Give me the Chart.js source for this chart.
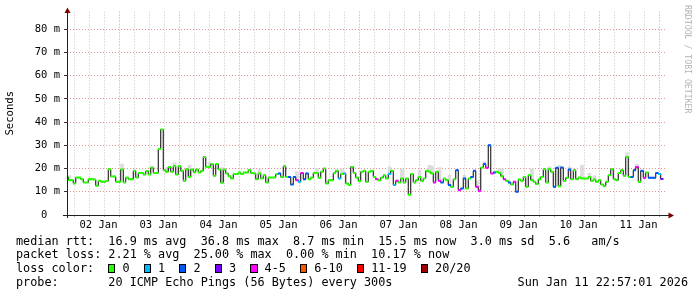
<!DOCTYPE html>
<html>
<head>
<meta charset="utf-8">
<script src="https://cdn.jsdelivr.net/npm/chart.js@4/dist/chart.umd.min.js"></script>
<style>
    html, body { margin: 0; padding: 0; background: #fff; }
    #wrap { position: relative; width: 697px; height: 297px; overflow: hidden; font-family: "DejaVu Sans Mono", monospace; }
    #chart { position: absolute; left: 0; top: 0; }
    .legend { position: absolute; left: 16px; top: 234.6px; font-size: 11.8px; line-height: 13.7px; white-space: pre; color: #000; }
    .box { display: inline-block; box-sizing: border-box; width: 1ch; height: 9px; border: 1px solid #000; vertical-align: -1px; }
    .stamp { position: absolute; right: 9px; top: 275.7px; font-size: 11.8px; line-height: 13.7px; white-space: pre; color: #000; }
    .mark { position: absolute; left: 683px; top: 5px; writing-mode: vertical-rl; font-size: 8.2px; line-height: 10px; color: #b4b4b4; white-space: pre; }
</style>
</head>
<body>
<div id="wrap">
    <canvas id="chart" width="697" height="297"></canvas>
    <div class="legend" id="legend"></div>
    <div class="stamp">Sun Jan 11 22:57:01 2026</div>
    <div class="mark">RRDTOOL / TOBI OETIKER</div>
</div>
<script>
// median rtt in ms, one value per hour starting 02 Jan 00:00 (one row per day)
const rtt = [
    16.4, 15.0, 15.0, 13.6, 16.1, 16.1, 15.4, 14.0, 14.0, 15.4, 15.4, 15.3, 12.6, 14.7, 14.3, 14.3, 14.6, 19.7, 16.6, 16.6, 14.3, 14.3, 19.6, 14.0,
    16.1, 15.4, 15.4, 19.0, 16.1, 18.1, 18.1, 17.4, 18.9, 17.4, 20.3, 18.1, 18.1, 28.4, 36.8, 19.3, 18.6, 20.7, 18.6, 21.0, 17.4, 21.0, 19.0, 14.7,
    19.7, 16.4, 19.6, 18.4, 19.6, 18.3, 19.0, 25.0, 20.7, 20.7, 21.9, 16.9, 21.9, 19.6, 13.9, 19.6, 17.9, 16.7, 15.7, 17.6, 17.6, 18.3, 17.6, 18.3,
    18.3, 19.3, 18.1, 17.9, 15.4, 17.9, 15.7, 17.1, 14.0, 16.1, 16.1, 16.1, 17.6, 17.9, 16.4, 21.0, 16.4, 16.4, 13.1, 16.4, 15.0, 14.3, 18.1, 15.4,
    17.9, 15.4, 16.1, 18.1, 18.1, 16.0, 18.6, 20.0, 13.6, 15.0, 15.0, 18.1, 19.0, 15.7, 17.6, 17.9, 13.6, 12.9, 20.7, 18.1, 16.1, 14.6, 18.6, 19.0,
    14.3, 18.6, 19.0, 16.4, 15.4, 15.0, 16.1, 17.1, 15.7, 17.6, 19.0, 12.9, 14.7, 14.0, 15.7, 14.0, 15.7, 8.7, 17.6, 14.0, 15.0, 16.4, 14.7, 15.7,
    19.0, 18.6, 17.9, 14.0, 18.6, 14.7, 14.0, 15.7, 15.0, 12.9, 12.1, 15.4, 19.3, 10.7, 11.4, 15.7, 11.4, 15.7, 16.4, 19.0, 12.1, 10.4, 20.4, 21.9,
    20.3, 30.0, 17.9, 18.3, 18.6, 18.1, 16.7, 15.4, 14.7, 14.0, 13.1, 14.3, 10.0, 15.3, 14.7, 16.4, 12.1, 17.1, 15.0, 14.3, 13.3, 15.4, 16.4, 19.7,
    14.0, 19.7, 18.6, 12.1, 20.3, 12.4, 20.4, 14.6, 16.0, 19.6, 15.4, 19.3, 15.4, 16.1, 15.7, 15.7, 15.7, 16.4, 14.7, 15.3, 14.3, 15.0, 13.1, 12.4,
    14.3, 17.1, 19.7, 15.4, 15.0, 18.1, 19.3, 16.9, 25.0, 16.4, 16.4, 19.3, 20.7, 14.3, 19.0, 16.0, 18.3, 16.0, 16.0, 16.0, 18.1, 17.6, 15.5
];

// lost pings (of 20) for each hour
const loss = [
    0,0,0,0,0,0,0,0,0,0,0,0,0,0,0,0,0,0,0,0,0,0,0,0,
    0,0,0,0,0,0,0,0,0,0,0,0,0,0,0,0,0,0,0,0,0,0,0,0,
    0,0,0,0,0,0,0,0,0,0,0,0,0,0,0,0,0,0,0,0,0,0,0,0,
    0,0,0,0,0,0,0,0,0,0,0,0,0,2,0,0,0,2,2,2,4,1,4,2,
    2,0,0,0,0,0,0,0,0,0,0,0,0,1,0,1,0,0,0,0,0,0,0,0,
    0,0,0,0,4,0,0,0,0,1,0,1,4,0,0,0,0,0,0,0,0,0,0,0,
    0,0,0,4,0,4,2,0,0,2,0,0,2,4,2,2,0,0,2,2,4,4,0,2,
    4,2,4,2,0,0,0,4,0,2,0,4,2,0,0,0,0,0,0,0,0,0,0,0,
    0,0,0,2,2,0,2,0,0,2,0,0,0,0,0,0,0,0,0,0,0,0,0,0,
    0,0,0,0,0,0,0,0,0,0,2,2,4,0,2,4,0,2,2,2,2,1,3
];

// visible smoke (ping spread above the median)
const smokeHours = [1, 22, 34, 40, 43, 49, 57, 62, 77, 92, 100, 110, 129, 134, 141, 145, 146, 149, 153, 159, 164, 167, 173, 174, 186, 193, 197, 201, 206, 209, 211, 224, 228];
const smokeTops = [17.0, 21.9, 21.0, 20.4, 22.4, 21.5, 22.6, 20.4, 19.9, 18.6, 20.0, 19.9, 20.7, 19.9, 19.3, 21.4, 21.0, 20.4, 17.1, 17.1, 14.7, 23.0, 20.0, 20.0, 19.9, 20.7, 21.4, 20.7, 21.4, 17.9, 16.9, 26.7, 21.9];

const dayLabels = ['02 Jan', '03 Jan', '04 Jan', '05 Jan', '06 Jan', '07 Jan', '08 Jan', '09 Jan', '10 Jan', '11 Jan'];

const lossUpper = [0, 1, 2, 3, 5, 10, 19, 20];
const lossLabels = ['0', '1', '2', '3', '4-5', '6-10', '11-19', '20/20'];
const lossColors = ['#26ff00', '#00b8ff', '#0059ff', '#7e00ff', '#ff00ff', '#ff5500', '#ff0000', '#a10000'];

const legendLines = [
    'median rtt:  16.9 ms avg  36.8 ms max  8.7 ms min  15.5 ms now  3.0 ms sd  5.6   am/s',
    'packet loss: 2.21 % avg  25.00 % max  0.00 % min  10.17 % now'
];
const probeText = 'probe:       20 ICMP Echo Pings (56 Bytes) every 300s';

function lossColor(n) {
    for (let i = 0; i < lossUpper.length; i++) {
        if (n <= lossUpper[i]) return lossColors[i];
    }
    return lossColors[lossColors.length - 1];
}

// legend below the graph
const legend = document.getElementById('legend');
let html = legendLines.join('\n') + '\nloss color:  ';
html += lossLabels.map((l, i) => '<span class="box" style="background:' + lossColors[i] + '"></span> ' + l).join('  ');
html += '\n' + probeText;
legend.innerHTML = html;

const GRID = '#c4c4c4';
const MGRID = '#e69090';

const axisArrows = {
    id: 'axisArrows',
    afterDraw(chart) {
        const { ctx, chartArea: a } = chart;
        ctx.save();
        ctx.strokeStyle = '#202020';
        ctx.lineWidth = 1;
        ctx.beginPath();
        ctx.moveTo(a.left - 4, a.bottom + 0.5);
        ctx.lineTo(a.right + 3, a.bottom + 0.5);
        ctx.moveTo(a.left + 0.5, a.bottom + 3);
        ctx.lineTo(a.left + 0.5, a.top - 1);
        ctx.stroke();
        ctx.fillStyle = '#7f0000';
        ctx.beginPath();
        ctx.moveTo(a.left + 0.5, a.top - 4);
        ctx.lineTo(a.left - 2.5, a.top + 1.5);
        ctx.lineTo(a.left + 3.5, a.top + 1.5);
        ctx.closePath();
        ctx.fill();
        ctx.beginPath();
        ctx.moveTo(a.right + 7, a.bottom + 0.5);
        ctx.lineTo(a.right + 1.5, a.bottom - 2.5);
        ctx.lineTo(a.right + 1.5, a.bottom + 3.5);
        ctx.closePath();
        ctx.fill();
        ctx.restore();
    }
};

const medianPts = rtt.map((v, h) => ({ x: h, y: v }));
const smokePts = smokeHours.map((h, i) => ({ x: h, y: [rtt[h], smokeTops[i]] }));

new Chart(document.getElementById('chart'), {
    type: 'line',
    data: {
        datasets: [
            {
                label: 'loss',
                data: medianPts,
                showLine: false,
                pointStyle: 'line',
                pointRadius: 1.5,
                pointBorderWidth: 2,
                pointBorderColor: loss.map(lossColor),
                order: 0
            },
            {
                label: 'median',
                data: medianPts,
                stepped: 'middle',
                borderColor: '#000',
                borderWidth: 1,
                pointRadius: 0,
                order: 1
            },
            {
                type: 'bar',
                label: 'smoke',
                data: smokePts,
                backgroundColor: '#dcdcdc',
                barThickness: 3,
                order: 2
            }
        ]
    },
    options: {
        responsive: false,
        animation: false,
        events: [],
        layout: { padding: { top: 11.6, right: 30, bottom: 0, left: 0 } },
        plugins: { legend: { display: false }, tooltip: { enabled: false } },
        scales: {
            x: {
                type: 'linear',
                min: 0,
                max: 240,
                offset: false,
                afterFit: s => { s.height = 82; },
                afterBuildTicks: s => {
                    const t = [];
                    for (let v = 0; v <= 240; v += 6) t.push({ value: v });
                    s.ticks = t;
                },
                grid: {
                    color: c => (c.tick && c.tick.value % 24 === 0 ? MGRID : GRID),
                    tickLength: 2,
                    tickColor: 'rgba(0,0,0,0.35)'
                },
                border: { display: false, dash: [1, 2] },
                ticks: {
                    autoSkip: false,
                    maxRotation: 0,
                    padding: 2,
                    labelOffset: 1.5,
                    color: '#000',
                    font: { family: 'DejaVu Sans Mono', size: 10.5 },
                    callback: v => (v % 24 === 12 ? dayLabels[(v - 12) / 24] : '')
                }
            },
            y: {
                min: 0,
                max: 87.5,
                afterFit: s => { s.width = 67; },
                afterBuildTicks: s => {
                    const t = [];
                    for (let v = 0; v <= 85; v += 5) t.push({ value: v });
                    s.ticks = t;
                },
                grid: {
                    color: c => (c.tick && c.tick.value % 10 === 0 ? MGRID : GRID),
                    tickLength: 3,
                    tickColor: c => (c.tick && c.tick.value % 10 === 0 ? '#333' : 'rgba(0,0,0,0.25)')
                },
                border: { display: false, dash: [1, 2] },
                title: {
                    display: true,
                    text: 'Seconds',
                    color: '#000',
                    padding: { top: 3.6, bottom: 0 },
                    font: { family: 'DejaVu Sans Mono', size: 10.6 }
                },
                ticks: {
                    padding: 4,
                    color: '#000',
                    font: { family: 'DejaVu Sans Mono', size: 10.5 },
                    callback: v => (v % 10 !== 0 ? '' : v === 0 ? '0  ' : v + ' m')
                }
            }
        }
    },
    plugins: [axisArrows]
});
</script>
</body>
</html>
